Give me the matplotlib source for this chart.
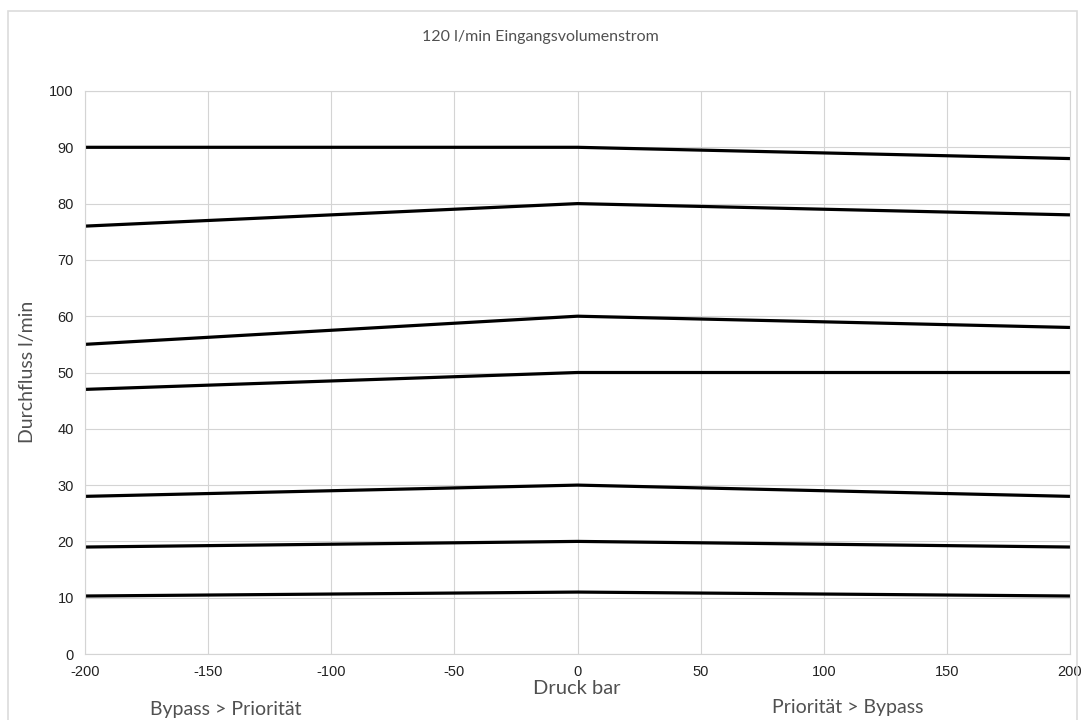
import numpy as np
import matplotlib.pyplot as plt
from matplotlib.patches import Rectangle

plt.rcParams['axes.unicode_minus'] = False

# pressure points (bar) and flow curves (l/min)
druck = [-200, 0, 200]
kurven = [
    [90, 90, 88],
    [76, 80, 78],
    [55, 60, 58],
    [47, 50, 50],
    [28, 30, 28],
    [19, 20, 19],
    [10.3, 11, 10.3],
]
x_ticks = [-200, -150, -100, -50, 0, 50, 100, 150, 200]
y_ticks = [0, 10, 20, 30, 40, 50, 60, 70, 80, 90, 100]

fig = plt.figure(figsize=(10.81, 7.2), dpi=100)
ax = fig.add_axes([85 / 1081, 1 - 654 / 720, (1070 - 85) / 1081, (654 - 91) / 720])

# outer light frame
fig.patches.append(Rectangle((8 / 1081, -0.05), (1077 - 8) / 1081, 1.05 - 11 / 720,
                             transform=fig.transFigure, fill=False,
                             edgecolor='#dcdcdc', linewidth=1.2))

for k in kurven:
    ax.plot(druck, k, color='black', linewidth=2.3, solid_capstyle='butt')

ax.set_xlim(-200, 200)
ax.set_ylim(0, 100)
ax.set_xticks(x_ticks)
ax.set_yticks(y_ticks)
ax.grid(True, color='#d4d4d4', linewidth=0.8)
ax.set_axisbelow(True)
for s in ax.spines.values():
    s.set_color('#d4d4d4')
    s.set_linewidth(0.8)
ax.tick_params(length=0, labelsize=10.5, pad=8, colors='#222222')
for lbl in ax.get_xticklabels() + ax.get_yticklabels():
    lbl.set_family('Liberation Sans')

light = dict(family='Lato', color='#505050')
fig.text(0.5, 1 - 37 / 720, '120 l/min Eingangsvolumenstrom', ha='center', va='center',
         fontsize=11.5, **light)
fig.text(27 / 1081, 1 - 372 / 720, 'Durchfluss l/min', rotation=90, ha='center', va='center',
         fontsize=14, **light)
fig.text(577 / 1081, 1 - 688 / 720, 'Druck bar', ha='center', va='center',
         fontsize=14.5, **light)
fig.text(226 / 1081, 1 - 709 / 720, 'Bypass > Priorität', ha='center', va='center',
         fontsize=14, **light)
fig.text(848 / 1081, 1 - 707 / 720, 'Priorität > Bypass', ha='center', va='center',
         fontsize=14, **light)

fig.savefig('out.png', dpi=100)
